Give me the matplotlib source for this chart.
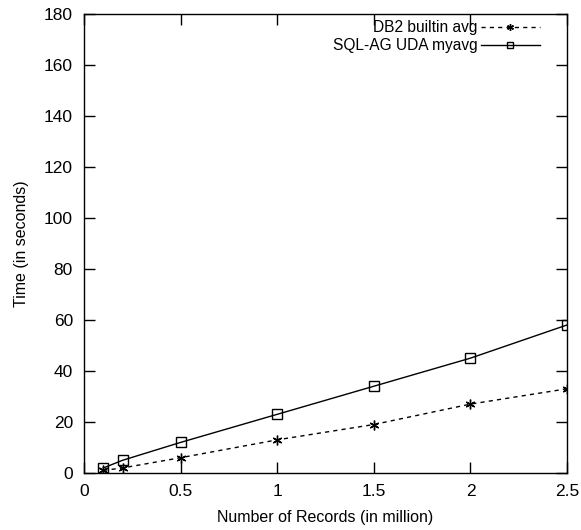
import matplotlib
matplotlib.use("Agg")
import matplotlib.pyplot as plt

plt.rcParams['font.family'] = ['Liberation Sans', 'DejaVu Sans']

records = [0.1, 0.2, 0.5, 1.0, 1.5, 2.0, 2.5]
db2_avg = [1, 2, 6, 13, 19, 27, 33]
uda_avg = [2, 5, 12, 23, 34, 45, 58]

fig = plt.figure(figsize=(5.81, 5.30), dpi=100)
ax = fig.add_axes([0.1446, 0.1075, 0.8314, 0.867])

ax.plot(records, db2_avg, color='black', lw=1, ls=(0, (3, 3)),
        marker=(6, 2, 0), markersize=7, mew=1, label='DB2 builtin avg')
ax.plot(records, uda_avg, color='black', lw=1, ls='-',
        marker='s', markersize=6.5, mfc='none', mew=1, label='SQL-AG UDA myavg')

ax.set_xlim(0, 2.5)
ax.set_ylim(0, 180)
ax.set_xticks([0, 0.5, 1, 1.5, 2, 2.5])
ax.set_xticklabels(['0', '0.5', '1', '1.5', '2', '2.5'])
ax.set_yticks(range(0, 181, 20))
ax.tick_params(direction='in', top=True, right=True, length=8, width=1,
               labelsize=12.5, pad=8)
for s in ax.spines.values():
    s.set_linewidth(1)

ax.set_xlabel('Number of Records (in million)', fontsize=11.5, labelpad=8)
ax.set_ylabel('Time (in seconds)', fontsize=11.5, labelpad=11)

ax.legend(loc='upper right', bbox_to_anchor=(0.944, 0.986), frameon=False,
          markerfirst=False, fontsize=11.2, handlelength=3.8, handletextpad=0.2,
          labelspacing=0.2, borderaxespad=0, borderpad=0,
          alignment='right', markerscale=0.7)
for t in ax.get_legend().get_texts():
    t.set_ha('right')

fig.savefig('out.png', dpi=100)
